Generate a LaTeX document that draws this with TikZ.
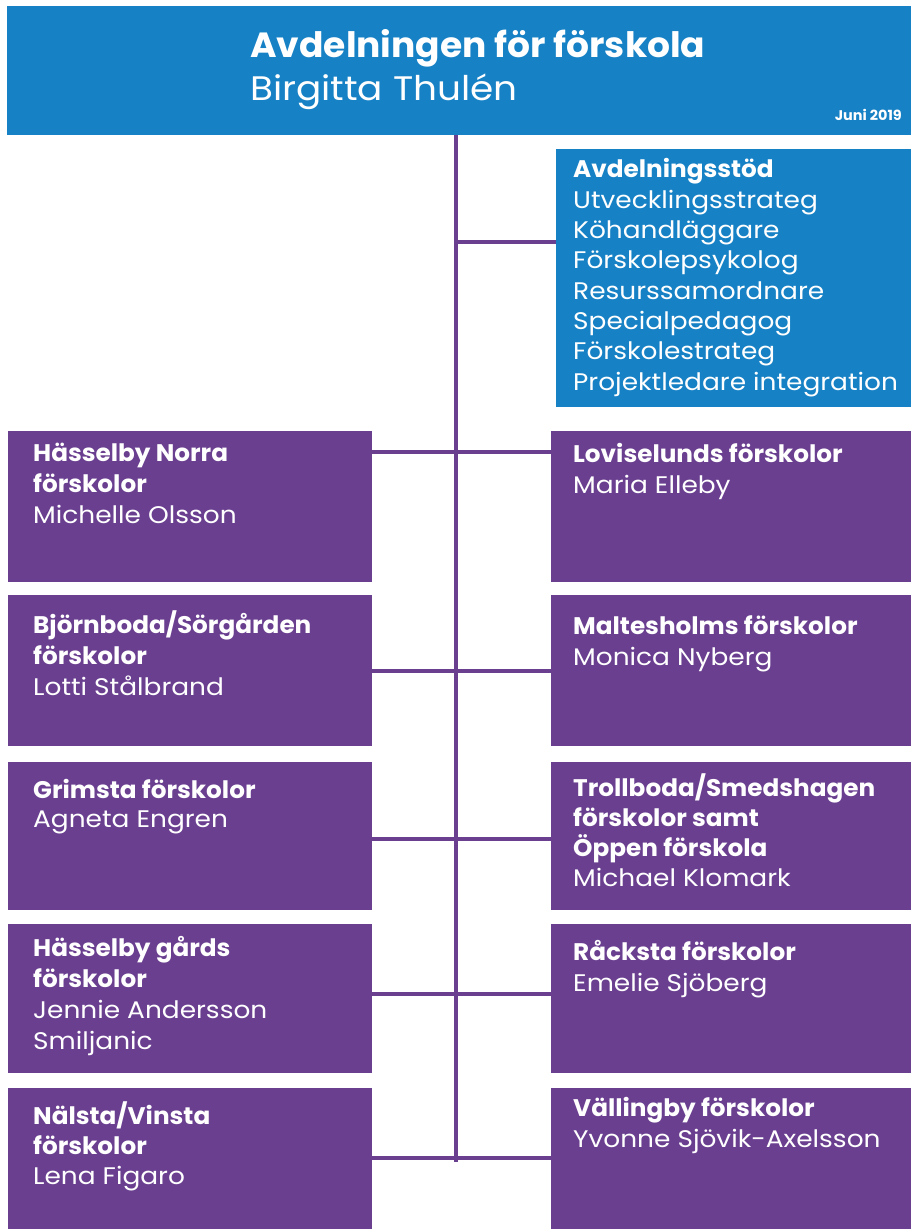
\documentclass[tikz,border=0pt]{standalone}
\usepackage{fontspec}
\setmainfont{Poppins}[FakeStretch=1.1, BoldFeatures={FakeStretch=1.03}]
\definecolor{sthblue}{HTML}{1681C5}
\definecolor{sthpurple}{HTML}{6A3F90}
\begin{document}
\begin{tikzpicture}[x=1pt,y=-1pt,
  pbox/.style={fill=sthpurple, draw=none, inner sep=0pt, outer sep=0pt, anchor=north west},
  bbox/.style={fill=sthblue, draw=none, inner sep=0pt, outer sep=0pt, anchor=north west},
  lbl/.style={text=white, anchor=north west, inner sep=0pt, align=left,
    font=\fontsize{24}{31}\selectfont, execute at begin node=\strut},
  conn/.style={draw=sthpurple, line width=4pt}]
\useasboundingbox (0,0) rectangle (911,1229);
% header
\node[bbox, minimum width=904pt, minimum height=129pt] (head) at (7,6) {};
\node[text=white, anchor=base west, inner sep=0pt, font=\fontsize{35}{40}\selectfont\bfseries] (title) at (250,57) {Avdelningen för förskola};
\node[text=white, anchor=base west, inner sep=0pt, font=\fontsize{34}{40}\selectfont] (chief) at (250,100) {Birgitta Thulén};
\node[text=white, anchor=base east, inner sep=0pt, font=\fontsize{14}{16}\selectfont\bfseries] (date) at (902,120) {Juni 2019};
% support box
\node[bbox, minimum width=355pt, minimum height=258pt] (stod) at (556,149) {};
\node[lbl, font=\fontsize{24}{30.3}\selectfont] (stodtxt) at (573,158.5) {\textbf{Avdelningsstöd}\\Utvecklingsstrateg\\Köhandläggare\\Förskolepsykolog\\Resurssamordnare\\Specialpedagog\\Förskolestrateg\\Projektledare integration};
% left boxes
\node[pbox, minimum width=364pt, minimum height=151pt] (L1) at (8,431) {};
\node[pbox, minimum width=364pt, minimum height=151pt] (L2) at (8,595) {};
\node[pbox, minimum width=364pt, minimum height=148pt] (L3) at (8,762) {};
\node[pbox, minimum width=364pt, minimum height=149pt] (L4) at (8,924) {};
\node[pbox, minimum width=364pt, minimum height=141pt] (L5) at (8,1088) {};
% right boxes
\node[pbox, minimum width=360pt, minimum height=151pt] (R1) at (551,431) {};
\node[pbox, minimum width=360pt, minimum height=151pt] (R2) at (551,595) {};
\node[pbox, minimum width=360pt, minimum height=148pt] (R3) at (551,762) {};
\node[pbox, minimum width=360pt, minimum height=149pt] (R4) at (551,924) {};
\node[pbox, minimum width=360pt, minimum height=141pt] (R5) at (551,1088) {};
% labels left
\node[lbl] (L1t) at (33,443.3) {\textbf{Hässelby Norra}\\\textbf{förskolor}\\Michelle Olsson};
\node[lbl] (L2t) at (33,610.3) {\textbf{Björnboda/Sörgården}\\\textbf{förskolor}\\Lotti Stålbrand};
\node[lbl, font=\fontsize{24}{29}\selectfont] (L3t) at (33,778.7) {\textbf{Grimsta förskolor}\\Agneta Engren};
\node[lbl] (L4t) at (33,936.3) {\textbf{Hässelby gårds}\\\textbf{förskolor}\\Jennie Andersson\\Smiljanic};
\node[lbl, font=\fontsize{24}{30}\selectfont] (L5t) at (33,1101) {\textbf{Nälsta/Vinsta}\\\textbf{förskolor}\\Lena Figaro};
% labels right
\node[lbl] (R1t) at (573,443.3) {\textbf{Loviselunds förskolor}\\Maria Elleby};
\node[lbl] (R2t) at (573,615.3) {\textbf{Maltesholms förskolor}\\Monica Nyberg};
\node[lbl, font=\fontsize{24}{30}\selectfont] (R3t) at (573,773) {\textbf{Trollboda/Smedshagen}\\\textbf{förskolor samt}\\\textbf{Öppen förskola}\\Michael Klomark};
\node[lbl] (R4t) at (573,940.3) {\textbf{Råcksta förskolor}\\Emelie Sjöberg};
\node[lbl] (R5t) at (573,1097.3) {\textbf{Vällingby förskolor}\\Yvonne Sjövik-Axelsson};
% connectors
\coordinate (trunkend) at (456,1162);
\coordinate (j0) at (456,242);
\draw[conn] (head.south -| trunkend) -- (trunkend);
\draw[conn] (j0) -- (j0 -| stod.west);
\draw[conn] ([yshift=-21pt]L1.north east) -- ([yshift=-21pt]R1.north west);
\draw[conn] ([yshift=-76pt]L2.north east) -- ([yshift=-76pt]R2.north west);
\draw[conn] ([yshift=-77pt]L3.north east) -- ([yshift=-77pt]R3.north west);
\draw[conn] ([yshift=-70pt]L4.north east) -- ([yshift=-70pt]R4.north west);
\draw[conn] ([yshift=-70pt]L5.north east) -- ([yshift=-70pt]R5.north west);
\end{tikzpicture}
\end{document}
